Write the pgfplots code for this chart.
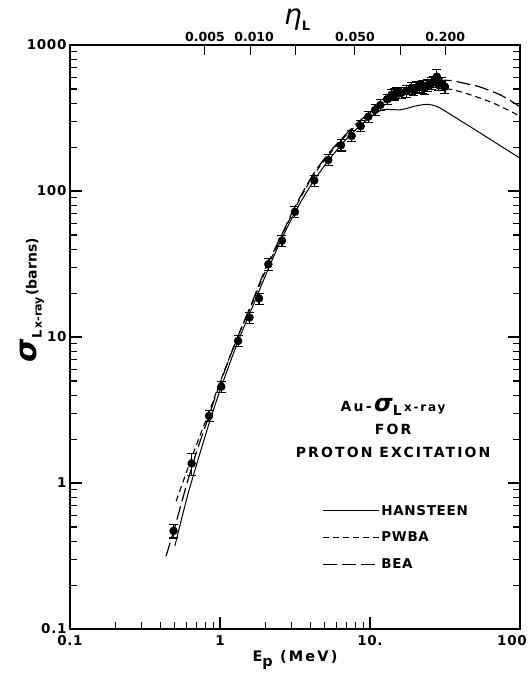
\documentclass[border=0pt]{standalone}
\usepackage{fontspec}
\setmainfont{DejaVu Sans}
\newfontfamily\lab[LetterSpace=5]{DejaVu Sans}
\newfontfamily\wlab[LetterSpace=15]{DejaVu Sans}
\usepackage{pgfplots}
\pgfplotsset{compat=1.18}
\usepackage{pgfplotstable}

\pgfplotstableread{
E s e
0.49 0.47 0.05
0.647 1.36 0.24
0.845 2.88 0.25
1.02 4.57 0.40
1.32 9.4 0.8
1.57 13.6 1.2
1.82 18.4 1.6
2.10 31.5 2.8
2.59 45.7 4
3.16 72 6
4.25 118 10
5.27 163 14
6.41 206 18
7.55 238 20
8.67 278 24
9.75 323 28
10.8 359 30
11.7 388 33
13.0 425 36
13.9 455 40
14.5 460 40
15.0 468 40
16.2 471 40
17.5 485 45
18.9 505 45
19.5 495 45
20.5 513 45
21.5 520 45
22.5 518 50
23.0 505 45
24.3 532 50
25.6 546 50
26.5 560 50
27.9 607 70
28.5 540 50
29.8 546 55
31.6 518 50
}\data

\pgfplotstableread{
E s
0.50 0.37
0.6 0.78
0.7 1.35
0.85 2.6
1.0 4.3
1.3 9.0
1.6 15
2.0 26
2.5 44
3.2 73
4.0 108
5.0 150
6.5 210
8.0 262
10 320
11.5 352
12.5 362
14 361
16 360
18 370
20 382
22.5 390
24.5 392
27 384
30 365
40 304
60 234
80 194
100 168
}\hansteen

\pgfplotstableread{
E s
0.51 0.75
0.6 1.2
0.7 1.85
0.85 3.1
1.0 4.9
1.3 9.8
1.6 16
2.0 28
2.6 50
3.2 78
4.2 128
5.3 176
6.5 224
8 278
10 335
13 400
16 445
20 480
25 500
30 503
35 496
45 462
63 409
80 366
100 325
}\pwba

\pgfplotstableread{
E s
0.437 0.316
0.5 0.5
0.6 0.98
0.7 1.65
0.85 2.95
1.0 4.8
1.3 9.8
1.6 16.3
2.0 29
2.6 51
3.2 80
4.2 131
5.3 181
6.5 229
8 285
10 345
13 415
16 470
20 520
25 556
30 572
35 570
45 540
54 516
74 455
100 378
}\bea

\begin{document}
\begin{tikzpicture}
\useasboundingbox (0,0) rectangle (528pt,673pt);
\begin{axis}[
  at={(70pt,44pt)}, anchor=south west,
  width=450pt, height=584pt, scale only axis,
  clip mode=individual,
  xmode=log, ymode=log,
  xmin=0.1, xmax=100, ymin=0.1, ymax=1000,
  xtick={0.1,1,10}, xticklabels={0.1,1,10.},
  extra x ticks={100}, extra x tick labels={100},
  extra x tick style={xticklabel style={xshift=-8pt}},
  ytick={0.1,1,10,100,1000}, yticklabels={0.1,1,10,100,1000},
  xtick pos=bottom, ytick pos=both,
  tick align=inside,
  major tick length=12pt, minor tick length=7pt,
  every tick/.style={black, line width=1.1pt},
  axis line style={line width=1.2pt},
  tick label style={font=\lab\bfseries\fontsize{13.5}{13.5}\selectfont},
  xticklabel style={yshift=-3pt},
  xlabel={\wlab\bfseries\fontsize{14.5}{14.5}\selectfont E\raisebox{-5pt}{p} (MeV)},
  xlabel style={yshift=2pt},
  ylabel={\bfseries{\fontsize{30}{30}\selectfont\itshape σ}\raisebox{-5pt}{\fontsize{13}{13}\selectfont L\,\fontsize{11}{11}\selectfont x-ray}\,{\fontsize{14}{14}\selectfont(barns)}},
  ylabel style={at={(axis description cs:-0.084,0.563)}, anchor=center},
  legend style={draw=none, fill=none, at={(axis description cs:0.56,0.216)}, anchor=north west,
    font=\lab\bfseries\fontsize{13.5}{13.5}\selectfont, row sep=11.5pt, inner sep=0pt},
  legend cell align=left,
  legend image code/.code={\draw[#1] (0pt,0pt) -- (56pt,0pt);},
]
\addplot[black, line width=1.0pt, smooth] table[x=E,y=s] {\hansteen};
\addlegendentry{HANSTEEN}
\addplot[black, line width=1.1pt, dash pattern=on 6pt off 4pt, smooth] table[x=E,y=s] {\pwba};
\addlegendentry{PWBA}
\addplot[black, line width=1.2pt, dash pattern=on 14pt off 5pt, smooth] table[x=E,y=s] {\bea};
\addlegendentry{BEA}
\addplot[forget plot, only marks, mark=*, mark size=4pt, black,
  error bars/.cd, y dir=both, y explicit,
  error bar style={line width=1.1pt},
  error mark options={rotate=90, mark size=4.5pt, line width=1.1pt}]
  table[x=E,y=s,y error=e] {\data};
\node[align=center, font=\wlab\bfseries\fontsize{14}{23}\selectfont] at (axis description cs:0.718,0.344)
  {Au\,-\,{\fontsize{24}{24}\selectfont\itshape σ}\raisebox{-4pt}{L}\,{\fontsize{12}{12}\selectfont x-ray}\\FOR\\PROTON EXCITATION};
\node at (axis description cs:0.505,1.043) {{\fontsize{28}{28}\selectfont\itshape η}\raisebox{-6pt}{\bfseries\fontsize{13}{13}\selectfont L}};
\end{axis}
\begin{axis}[
  at={(70pt,44pt)}, anchor=south west,
  width=450pt, height=584pt, scale only axis,
  xmode=log, xmin=0.00063, xmax=0.63, ymin=0, ymax=1,
  axis x line*=top, axis y line=none,
  xtick={0.005,0.01,0.02,0.05,0.1,0.2},
  xticklabels={0.005\hspace{4pt},\hspace{8pt}0.010,,0.050,,0.200},
  xminorticks=false,
  tick align=inside, major tick length=10pt,
  every tick/.style={black, line width=1.1pt},
  axis line style={line width=1.2pt},
  tick label style={font=\bfseries\fontsize{12.5}{12.5}\selectfont},
]
\end{axis}
\end{tikzpicture}
\end{document}
